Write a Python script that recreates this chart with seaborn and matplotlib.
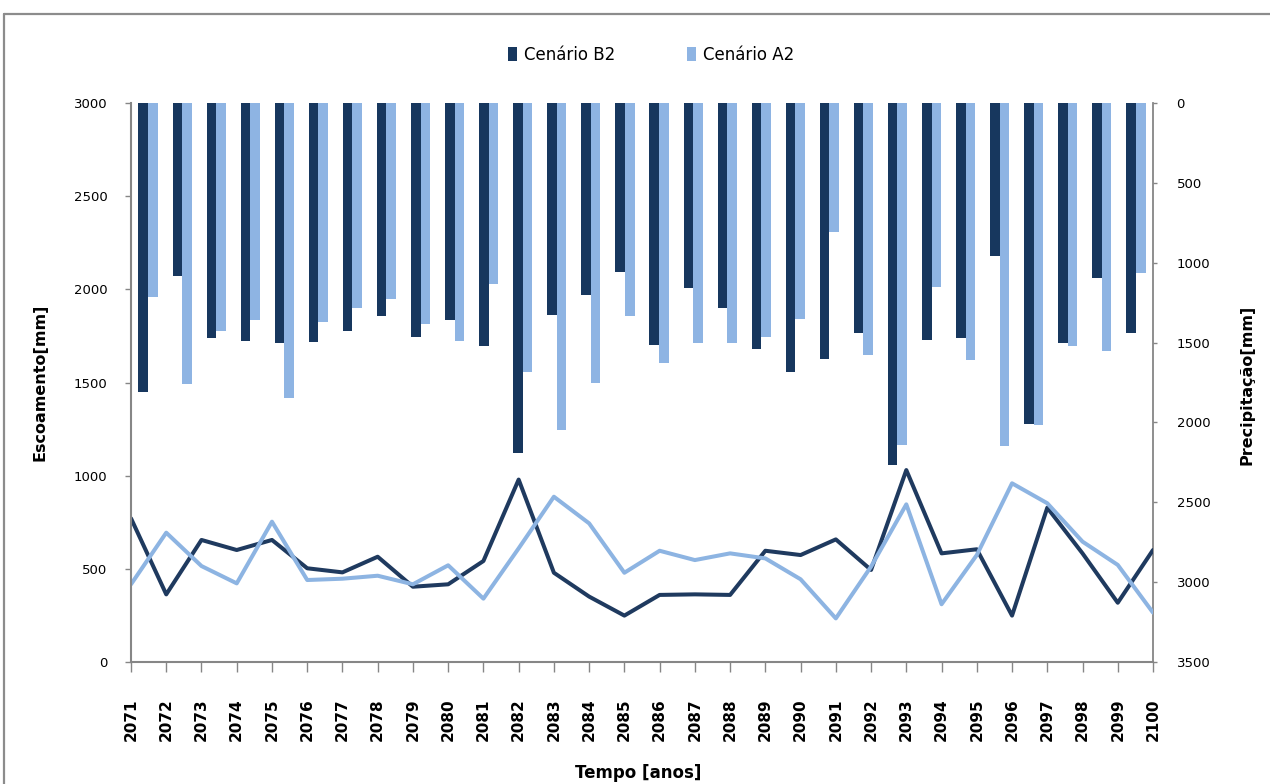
import matplotlib
matplotlib.use("Agg")
import matplotlib.pyplot as plt
from matplotlib.lines import Line2D
import seaborn as sns
import pandas as pd

# ---------------- data ----------------
years = list(range(2071, 2101))
scenarios = ["Cenário B2", "Cenário A2"]

precip_b2 = [1807, 1081, 1469, 1488, 1501, 1494, 1426, 1332, 1463, 1357,
             1520, 2189, 1325, 1200, 1056, 1513, 1156, 1282, 1538, 1682,
             1601, 1438, 2265, 1482, 1469, 956, 2008, 1501, 1094, 1438]
precip_a2 = [1213, 1757, 1426, 1357, 1845, 1369, 1282, 1225, 1382, 1488,
             1131, 1682, 2045, 1751, 1332, 1626, 1501, 1501, 1463, 1350,
             806, 1576, 2139, 1150, 1607, 2146, 2014, 1520, 1551, 1063]

runoff_b2 = [771, 363, 655, 601, 655, 503, 481, 565, 404, 417,
             542, 979, 479, 351, 249, 360, 363, 360, 597, 574,
             658, 494, 1030, 583, 605, 249, 828, 583, 318, 601]
runoff_a2 = [417, 694, 515, 422, 753, 440, 447, 463, 417, 519,
             340, 610, 887, 744, 479, 597, 547, 583, 556, 444,
             234, 512, 846, 310, 574, 959, 852, 646, 521, 265]

left_ticks = [0, 500, 1000, 1500, 2000, 2500, 3000]
right_ticks = [0, 500, 1000, 1500, 2000, 2500, 3000, 3500]

bar_colors = ["#17375E", "#8EB4E3"]
line_colors = ["#1F3A5F", "#8DB4E2"]
axis_gray = "#868686"

# ---------------- figure ----------------
sns.set_theme(style="white")
plt.rcParams["font.family"] = ["DejaVu Sans"]
plt.rcParams["text.color"] = "black"
plt.rcParams["xtick.color"] = axis_gray
plt.rcParams["ytick.color"] = axis_gray
plt.rcParams["xtick.labelcolor"] = "black"
plt.rcParams["ytick.labelcolor"] = "black"

W, H = 1270, 784
fig = plt.figure(figsize=(W / 100, H / 100), dpi=100)
fig.patch.set_facecolor("white")

rect = [131 / W, 1 - 662 / H, (1153 - 131) / W, (662 - 103) / H]
ax_bar = fig.add_axes(rect)
ax_line = fig.add_axes(rect)
ax_line.patch.set_visible(False)

# ---- bars (precipitation, right inverted axis) ----
bars_df = pd.DataFrame({
    "Ano": [str(y) for y in years] * 2,
    "Precipitação": precip_b2 + precip_a2,
    "Cenário": [scenarios[0]] * len(years) + [scenarios[1]] * len(years),
})
sns.barplot(data=bars_df, x="Ano", y="Precipitação", hue="Cenário",
            hue_order=scenarios, palette=bar_colors, width=0.56, dodge=True,
            gap=0, linewidth=0, saturation=1, errorbar=None, ax=ax_bar)

ax_bar.set_xlim(-0.5, len(years) - 0.5)
ax_bar.set_ylim(3500, 0)
ax_bar.set_xticks([])
ax_bar.set_xlabel("")
ax_bar.set_ylabel("")
ax_bar.yaxis.tick_right()
ax_bar.set_yticks(right_ticks)
ax_bar.set_yticklabels([str(t) for t in right_ticks], fontsize=9.5)
for s in ["left", "top", "bottom"]:
    ax_bar.spines[s].set_visible(False)
ax_bar.spines["right"].set_color(axis_gray)
ax_bar.spines["right"].set_linewidth(1.3)

handles, labels = ax_bar.get_legend_handles_labels()
if ax_bar.get_legend() is not None:
    ax_bar.get_legend().remove()

# ---- lines (runoff, left axis) ----
lines_df = pd.DataFrame({
    "Ano": years * 2,
    "Escoamento": runoff_b2 + runoff_a2,
    "Cenário": [scenarios[0]] * len(years) + [scenarios[1]] * len(years),
})
sns.lineplot(data=lines_df, x="Ano", y="Escoamento", hue="Cenário",
             hue_order=scenarios, palette=line_colors, linewidth=2.9,
             ax=ax_line, legend=False)

ax_line.set_xlim(years[0], years[-1])
ax_line.set_ylim(0, 3000)
ax_line.set_yticks(left_ticks)
ax_line.set_yticklabels([str(t) for t in left_ticks], fontsize=9.5)
ax_line.set_xticks(years)
ax_line.set_xticklabels([str(y) for y in years], rotation=90,
                        fontsize=11, fontweight="bold")
ax_line.set_xlabel("")
ax_line.set_ylabel("")
for s in ["right", "top"]:
    ax_line.spines[s].set_visible(False)
for s in ["left", "bottom"]:
    ax_line.spines[s].set_color(axis_gray)
    ax_line.spines[s].set_linewidth(1.5)

# tick styling (applied last)
ax_line.yaxis.set_tick_params(which="major", direction="out", length=4,
                              width=1, color=axis_gray, pad=13,
                              left=True, right=False, labelleft=True,
                              labelright=False)
ax_line.xaxis.set_tick_params(which="major", direction="out", length=7,
                              width=1, color=axis_gray, pad=19,
                              bottom=True, top=False)
ax_bar.yaxis.set_tick_params(which="major", direction="out", length=3,
                             width=1, color=axis_gray, pad=14,
                             right=True, left=False, labelright=True,
                             labelleft=False)

# ---- texts ----
fig.text(40 / W, 1 - 382 / H, "Escoamento[mm]", rotation=90, ha="center",
         va="center", fontsize=11.5, fontweight="bold")
fig.text(1247 / W, 1 - 385 / H, "Precipitação[mm]", rotation=90, ha="center",
         va="center", fontsize=11.5, fontweight="bold")
fig.text(638 / W, 1 - 773 / H, "Tempo [anos]", ha="center", va="center",
         fontsize=12, fontweight="bold")

fig.legend(handles, labels, loc="center", bbox_to_anchor=(651 / W, 1 - 55 / H),
           ncol=2, frameon=False, fontsize=12, handlelength=0.55,
           handleheight=0.9, handletextpad=0.4, columnspacing=4.3)

# ---- outer border ----
fig.add_artist(Line2D([4 / W, 1], [1 - 14 / H, 1 - 14 / H],
                      transform=fig.transFigure, color="#8C8C8C", lw=1.6))
fig.add_artist(Line2D([4 / W, 4 / W], [1 - 14 / H, 0],
                      transform=fig.transFigure, color="#8C8C8C", lw=1.6))

fig.savefig("out.png", dpi=100)
